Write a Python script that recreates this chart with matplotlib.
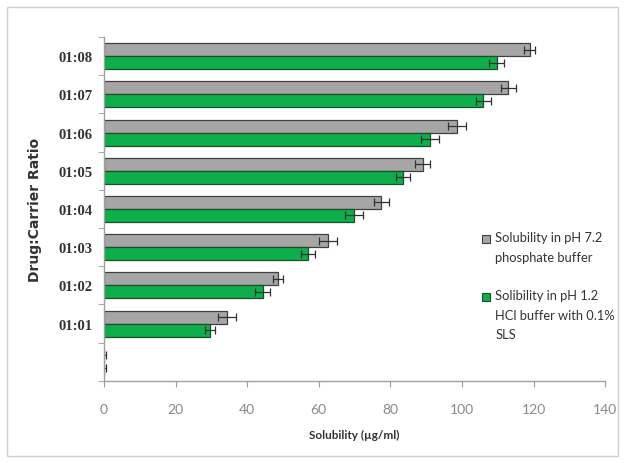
import matplotlib
matplotlib.use("Agg")
import matplotlib.pyplot as plt
import numpy as np
from matplotlib.patches import Rectangle

# Drug:carrier ratios (bottom to top); the first slot is the pure-drug baseline
ratios = ["", "01:01", "01:02", "01:03", "01:04", "01:05", "01:06", "01:07", "01:08"]
sol_ph72 = [0, 34.4, 48.6, 62.5, 77.5, 89.0, 98.5, 113.0, 118.9]
err_ph72 = [0.5, 2.5, 1.5, 2.5, 2.0, 2.0, 2.5, 2.0, 1.5]
sol_ph12 = [0, 29.6, 44.3, 57.0, 69.8, 83.5, 91.0, 106.0, 109.7]
err_ph12 = [0.5, 1.5, 2.0, 2.0, 2.5, 2.0, 2.5, 2.0, 2.0]

label_ph72 = "Solubility in pH 7.2\nphosphate buffer"
label_ph12 = "Solibility in pH 1.2\nHCl buffer with 0.1%\nSLS"
xticks = [0, 20, 40, 60, 80, 100, 120, 140]

gray, gray_edge = "#a6a6a6", "#404040"
green, green_edge = "#0fae4c", "#1d4d2b"

fig = plt.figure(figsize=(6.24, 4.64), dpi=100)
ax = fig.add_axes([0.1667, 0.177, 0.803, 0.741])

# light frame around the whole chart
fig.patches.append(Rectangle((0.012, 0.015), 0.978, 0.968, transform=fig.transFigure,
                             fill=False, edgecolor="#d0d0d0", linewidth=1.0))

y = np.arange(len(ratios))
h = 0.34
err_kw = dict(ecolor="#303030", capsize=3, elinewidth=0.9, capthick=0.9)
ax.barh(y + h / 2, sol_ph72, height=h, color=gray, edgecolor=gray_edge,
        linewidth=0.9, xerr=err_ph72, error_kw=err_kw)
ax.barh(y - h / 2, sol_ph12, height=h, color=green, edgecolor=green_edge,
        linewidth=0.9, xerr=err_ph12, error_kw=err_kw)

ax.set_xlim(0, 140)
ax.set_ylim(-0.5, len(ratios) - 0.5)
ax.set_xticks(xticks)
ax.set_xticklabels([str(t) for t in xticks], color="#8a8a8a", fontsize=10,
                   family="Lato")
ax.set_yticks(y)
ax.set_yticklabels(ratios, fontsize=10.5, family="Liberation Serif",
                   fontweight="bold", color="#333333")
ax.set_yticks(np.arange(len(ratios) + 1) - 0.5, minor=True)
ax.tick_params(axis="y", which="major", length=0, pad=8)
ax.tick_params(axis="y", which="minor", length=4, color="#9a9a9a", direction="out")
ax.tick_params(axis="x", length=4, color="#9a9a9a", direction="out", pad=12)

for s in ("top", "right"):
    ax.spines[s].set_visible(False)
for s in ("left", "bottom"):
    ax.spines[s].set_color("#a0a0a0")
    ax.spines[s].set_linewidth(1.0)

ax.set_xlabel("Solubility (\u00b5g/ml)", fontsize=8.5, fontweight="bold",
              color="#333333", labelpad=10, family="Lato")
ax.set_ylabel("Drug:Carrier Ratio", fontsize=10, fontweight="bold",
              color="#333333", labelpad=12)

# legend: square markers aligned with the first line of each entry
for (ly, fc, ec, txt) in [(0.413, gray, gray_edge, label_ph72),
                          (0.244, green, green_edge, label_ph12)]:
    ax.add_patch(Rectangle((0.754, ly - 0.012), 0.016, 0.024, transform=ax.transAxes,
                           facecolor=fc, edgecolor=ec, linewidth=0.8, clip_on=False))
    ax.text(0.781, ly + 0.022, txt, transform=ax.transAxes, va="top", ha="left",
            fontsize=9.3, family="Lato", color="#333333", linespacing=1.75)

fig.savefig("out.png", dpi=100)
